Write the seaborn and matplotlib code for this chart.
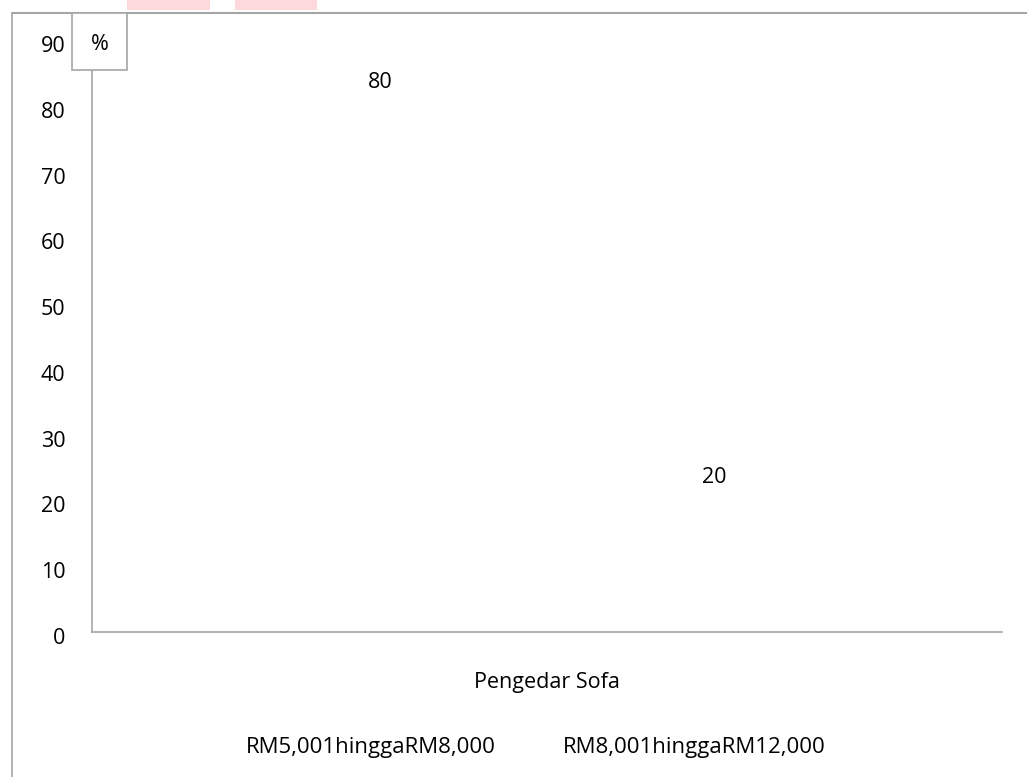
import pandas as pd
import matplotlib.pyplot as plt
import seaborn as sns
from matplotlib.patches import Rectangle
from matplotlib.lines import Line2D
from matplotlib.transforms import ScaledTranslation

# chart values
categories = ["Pengedar Sofa"]
series = ["RM5,001hinggaRM8,000", "RM8,001hinggaRM12,000"]
values = [80, 20]
y_ticks = [0, 10, 20, 30, 40, 50, 60, 70, 80, 90]

df = pd.DataFrame({
    "kategori": categories * len(series),
    "siri": series,
    "peratus": values,
})

sns.set_style("white")
plt.rcParams["font.family"] = ["Open Sans", "DejaVu Sans"]
plt.rcParams["text.color"] = "black"
plt.rcParams["xtick.labelcolor"] = "black"
plt.rcParams["ytick.labelcolor"] = "black"
fs = 15.5

W, H = 1027, 777
fig = plt.figure(figsize=(W / 100, H / 100), dpi=100)
ax = fig.add_axes([92 / W, (H - 632) / H, (1002 - 92) / W, (632 - 40) / H])

grey = "#a6a6a6"
sns.barplot(data=df, x="kategori", y="peratus", hue="siri", hue_order=series,
            palette=["white", "white"], width=0.735, legend=False, ax=ax)

for c in ax.containers:
    ax.bar_label(c, fmt="%g", padding=9, fontsize=fs, color="black")

ax.set_ylim(0, 90)
ax.set_xlim(-0.5, 0.5)
ax.set_yticks(y_ticks)
ax.set_xlabel("")
ax.set_ylabel("")
ax.tick_params(axis="y", length=0, pad=19, labelsize=fs, labelcolor="black")
ax.tick_params(axis="x", length=0, pad=29, labelsize=fs, labelcolor="black")
shift = ScaledTranslation(0, -4 / 100, fig.dpi_scale_trans)
for lab in ax.get_yticklabels():
    lab.set_transform(lab.get_transform() + shift)
for s in ["top", "right"]:
    ax.spines[s].set_visible(False)
for s in ["left", "bottom"]:
    ax.spines[s].set_color(grey)
    ax.spines[s].set_linewidth(1.2)

# legend without visible keys
handles = [Line2D([], [], color="none") for _ in series]
fig.legend(handles, series, loc="center", ncol=2, frameon=False,
           bbox_to_anchor=(536 / W, 1 - 748 / H), handlelength=0,
           handletextpad=0, columnspacing=3.0, fontsize=16, labelcolor="black")

# outer frame (left and top edges)
fig.add_artist(Line2D([12 / W, 12 / W], [0, 1 - 13 / H], color=grey, lw=1.2,
                      transform=fig.transFigure))
fig.add_artist(Line2D([12 / W, 1], [1 - 13 / H, 1 - 13 / H], color=grey, lw=1.5,
                      transform=fig.transFigure))

# "%" unit box
fig.add_artist(Rectangle((72 / W, 1 - 70 / H), 55 / W, 57 / H, facecolor="white",
                         edgecolor=grey, lw=1.2, transform=fig.transFigure, zorder=5))
fig.text(100 / W, 1 - 44 / H, "%", ha="center", va="center", fontsize=fs,
         color="black", zorder=6)

# faint header shapes cut off at the top
for x0, x1 in [(127, 210), (235, 317)]:
    fig.add_artist(Rectangle((x0 / W, 1 - 10 / H), (x1 - x0) / W, 10 / H,
                             facecolor="#fdd9dc", edgecolor="none",
                             transform=fig.transFigure))

fig.savefig("out.png", dpi=100)
